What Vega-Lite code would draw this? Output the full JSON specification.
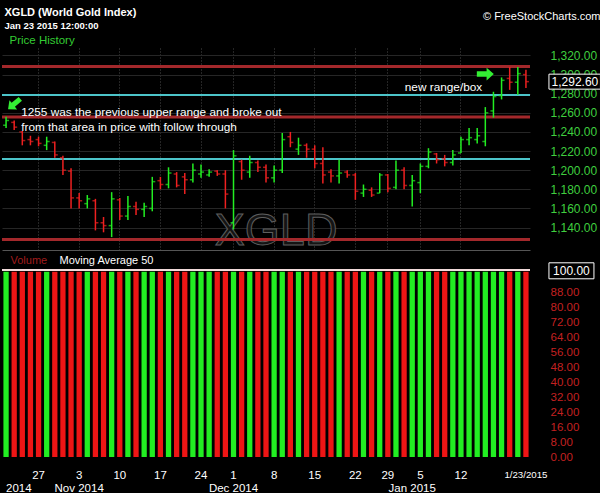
{
  "$schema": "https://vega.github.io/schema/vega-lite/v6.json",
  "background": "#000000",
  "padding": {"left": 0, "top": 6, "right": 2, "bottom": 0},
  "bounds": "flush",
  "spacing": 18,
  "config": {
    "view": {"stroke": null},
    "font": "Liberation Sans",
    "axis": {"labelFont": "Liberation Sans", "titleFont": "Liberation Sans"}
  },
  "datasets": {
    "bars": [
      {"date": "2014-10-21", "open": 1247, "high": 1256, "low": 1244, "close": 1252, "volume": 99},
      {"date": "2014-10-22", "open": 1250, "high": 1252, "low": 1242, "close": 1245, "volume": 99},
      {"date": "2014-10-23", "open": 1240, "high": 1241, "low": 1226, "close": 1231, "volume": 99},
      {"date": "2014-10-24", "open": 1232, "high": 1236, "low": 1226, "close": 1230, "volume": 99},
      {"date": "2014-10-27", "open": 1232, "high": 1235, "low": 1225, "close": 1228, "volume": 99},
      {"date": "2014-10-28", "open": 1226, "high": 1235, "low": 1221, "close": 1230, "volume": 99},
      {"date": "2014-10-29", "open": 1229, "high": 1230, "low": 1213, "close": 1216, "volume": 99},
      {"date": "2014-10-30", "open": 1213, "high": 1215, "low": 1195, "close": 1200, "volume": 99},
      {"date": "2014-10-31", "open": 1199, "high": 1202, "low": 1160, "close": 1171, "volume": 99},
      {"date": "2014-11-03", "open": 1171, "high": 1176, "low": 1160, "close": 1168, "volume": 99},
      {"date": "2014-11-04", "open": 1165, "high": 1174, "low": 1160, "close": 1170, "volume": 99},
      {"date": "2014-11-05", "open": 1168, "high": 1170, "low": 1137, "close": 1145, "volume": 99},
      {"date": "2014-11-06", "open": 1145, "high": 1151, "low": 1135, "close": 1142, "volume": 99},
      {"date": "2014-11-07", "open": 1142, "high": 1177, "low": 1130, "close": 1170, "volume": 99},
      {"date": "2014-11-10", "open": 1169, "high": 1171, "low": 1148, "close": 1152, "volume": 99},
      {"date": "2014-11-11", "open": 1152, "high": 1173, "low": 1148, "close": 1162, "volume": 99},
      {"date": "2014-11-12", "open": 1162, "high": 1167, "low": 1153, "close": 1159, "volume": 99},
      {"date": "2014-11-13", "open": 1159, "high": 1166, "low": 1151, "close": 1162, "volume": 99},
      {"date": "2014-11-14", "open": 1160, "high": 1193, "low": 1157, "close": 1188, "volume": 99},
      {"date": "2014-11-17", "open": 1189, "high": 1193, "low": 1180, "close": 1185, "volume": 99},
      {"date": "2014-11-18", "open": 1185, "high": 1203, "low": 1181, "close": 1197, "volume": 99},
      {"date": "2014-11-19", "open": 1196, "high": 1198, "low": 1182, "close": 1184, "volume": 99},
      {"date": "2014-11-20", "open": 1193, "high": 1197, "low": 1175, "close": 1190, "volume": 99},
      {"date": "2014-11-21", "open": 1190, "high": 1207, "low": 1187, "close": 1200, "volume": 99},
      {"date": "2014-11-24", "open": 1196, "high": 1206, "low": 1192, "close": 1198, "volume": 99},
      {"date": "2014-11-25", "open": 1195, "high": 1201, "low": 1193, "close": 1198, "volume": 99},
      {"date": "2014-11-26", "open": 1199, "high": 1200, "low": 1194, "close": 1196, "volume": 99},
      {"date": "2014-11-28", "open": 1196, "high": 1200, "low": 1160, "close": 1175, "volume": 99},
      {"date": "2014-12-01", "open": 1145, "high": 1221, "low": 1138, "close": 1215, "volume": 99},
      {"date": "2014-12-02", "open": 1209, "high": 1211, "low": 1190, "close": 1200, "volume": 99},
      {"date": "2014-12-03", "open": 1198, "high": 1215, "low": 1192, "close": 1208, "volume": 99},
      {"date": "2014-12-04", "open": 1208, "high": 1210, "low": 1198, "close": 1203, "volume": 99},
      {"date": "2014-12-05", "open": 1203, "high": 1206, "low": 1187, "close": 1192, "volume": 99},
      {"date": "2014-12-08", "open": 1192, "high": 1205, "low": 1187, "close": 1200, "volume": 99},
      {"date": "2014-12-09", "open": 1200, "high": 1239, "low": 1197, "close": 1232, "volume": 99},
      {"date": "2014-12-10", "open": 1235, "high": 1240, "low": 1224, "close": 1229, "volume": 99},
      {"date": "2014-12-11", "open": 1222, "high": 1234, "low": 1216, "close": 1226, "volume": 99},
      {"date": "2014-12-12", "open": 1226, "high": 1228, "low": 1213, "close": 1222, "volume": 99},
      {"date": "2014-12-15", "open": 1222, "high": 1226, "low": 1202, "close": 1207, "volume": 99},
      {"date": "2014-12-16", "open": 1207, "high": 1224, "low": 1186, "close": 1195, "volume": 99},
      {"date": "2014-12-17", "open": 1198, "high": 1201, "low": 1187, "close": 1194, "volume": 99},
      {"date": "2014-12-18", "open": 1194, "high": 1211, "low": 1186, "close": 1197, "volume": 99},
      {"date": "2014-12-19", "open": 1198, "high": 1200, "low": 1192, "close": 1195, "volume": 99},
      {"date": "2014-12-22", "open": 1195, "high": 1197, "low": 1169, "close": 1178, "volume": 99},
      {"date": "2014-12-23", "open": 1176, "high": 1185, "low": 1172, "close": 1180, "volume": 99},
      {"date": "2014-12-24", "open": 1179, "high": 1182, "low": 1172, "close": 1174, "volume": 99},
      {"date": "2014-12-26", "open": 1176, "high": 1197, "low": 1176, "close": 1195, "volume": 99},
      {"date": "2014-12-29", "open": 1195, "high": 1196, "low": 1177, "close": 1181, "volume": 99},
      {"date": "2014-12-30", "open": 1182, "high": 1210, "low": 1180, "close": 1200, "volume": 99},
      {"date": "2014-12-31", "open": 1200, "high": 1203, "low": 1180, "close": 1184, "volume": 99},
      {"date": "2015-01-02", "open": 1184, "high": 1195, "low": 1162, "close": 1189, "volume": 99},
      {"date": "2015-01-05", "open": 1187, "high": 1207, "low": 1176, "close": 1204, "volume": 99},
      {"date": "2015-01-06", "open": 1204, "high": 1223, "low": 1202, "close": 1219, "volume": 99},
      {"date": "2015-01-07", "open": 1217, "high": 1218, "low": 1207, "close": 1211, "volume": 99},
      {"date": "2015-01-08", "open": 1212, "high": 1216, "low": 1204, "close": 1208, "volume": 99},
      {"date": "2015-01-09", "open": 1208, "high": 1221, "low": 1205, "close": 1216, "volume": 99},
      {"date": "2015-01-12", "open": 1218, "high": 1235, "low": 1218, "close": 1232, "volume": 99},
      {"date": "2015-01-13", "open": 1232, "high": 1244, "low": 1226, "close": 1234, "volume": 99},
      {"date": "2015-01-14", "open": 1232, "high": 1244, "low": 1228, "close": 1236, "volume": 99},
      {"date": "2015-01-15", "open": 1230, "high": 1266, "low": 1225, "close": 1260, "volume": 99},
      {"date": "2015-01-16", "open": 1262, "high": 1282, "low": 1255, "close": 1277, "volume": 99},
      {"date": "2015-01-20", "open": 1278, "high": 1297, "low": 1274, "close": 1294, "volume": 99},
      {"date": "2015-01-21", "open": 1296, "high": 1308, "low": 1284, "close": 1292, "volume": 99},
      {"date": "2015-01-22", "open": 1292, "high": 1308, "low": 1279, "close": 1301, "volume": 99},
      {"date": "2015-01-23", "open": 1300, "high": 1305, "low": 1286, "close": 1292.6, "volume": 99}
    ],
    "levels": [
      {"level": 1308.5, "kind": "resistance"},
      {"level": 1278.7, "kind": "range"},
      {"level": 1255.6, "kind": "resistance"},
      {"level": 1211.7, "kind": "range"},
      {"level": 1127.4, "kind": "resistance"}
    ]
  },
  "vconcat": [
    {
      "width": 528,
      "height": 202,
      "data": {"name": "bars"},
      "resolve": {"axis": {"x": "independent", "y": "independent"}},
      "layer": [
        {
          "data": {"values": [{"date": "2014-12-08", "price": 1136.3, "label": "XGLD"}]},
          "mark": {"type": "text", "fontSize": 45, "font": "Liberation Sans", "fill": "#141414", "stroke": "#5e5e5e", "strokeWidth": 1, "dx": 2, "baseline": "middle", "align": "center"},
          "encoding": {
            "x": {"field": "date", "type": "ordinal", "scale": {"type": "band", "paddingInner": 0.35, "paddingOuter": 0.175},
              "axis": {"orient": "top", "title": "Jan 23 2015 12:00:00", "labels": false, "ticks": false, "tickSize": 0, "domain": false, "grid": false,
                "titleX": 2, "titleY": -23, "titleAlign": "left", "titleBaseline": "middle", "titleFontSize": 9.5, "titleFontWeight": "bold", "titleColor": "#ffffff"}},
            "y": {"field": "price", "type": "quantitative", "scale": {"domain": [1116.5, 1327.8], "nice": false, "zero": false},
              "axis": {"orient": "left", "title": "Price History", "labels": false, "ticks": false, "tickSize": 0, "domain": false, "grid": false,
                "titleX": 7, "titleY": -8, "titleAngle": 0, "titleAlign": "left", "titleBaseline": "middle", "titleColor": "#33cc33", "titleFontSize": 11.5, "titleFontWeight": "normal"}},
            "text": {"field": "label"}
          }
        },
        {
          "data": {"name": "levels"},
          "mark": {"type": "rule"},
          "encoding": {
            "y": {"field": "level", "type": "quantitative", "axis": null},
            "color": {"field": "kind", "type": "nominal", "scale": {"domain": ["resistance", "range"], "range": ["#a3282b", "#4cc4c9"]}, "legend": null},
            "strokeWidth": {"field": "kind", "type": "nominal", "scale": {"domain": ["resistance", "range"], "range": [3, 2]}, "legend": null}
          }
        },
        {
          "mark": {"type": "rule", "strokeWidth": 1.5},
          "encoding": {
            "x": {"field": "date", "type": "ordinal",
              "axis": {"orient": "bottom", "values": ["2014-10-27", "2014-11-03", "2014-11-10", "2014-11-17", "2014-11-24", "2014-12-01", "2014-12-08", "2014-12-15", "2014-12-22", "2014-12-29", "2015-01-05", "2015-01-12"],
                "labels": false, "ticks": false, "tickSize": 0, "domain": true, "domainColor": "#555555", "grid": true, "gridColor": "#4a4a4a", "gridDash": [1, 2],
                "title": "XGLD (World Gold Index)", "titleX": 2, "titleY": -238, "titleAlign": "left", "titleBaseline": "middle", "titleColor": "#ffffff", "titleFontSize": 11, "titleFontWeight": "bold"}},
            "y": {"field": "low", "type": "quantitative",
              "axis": {"orient": "right", "values": [1140, 1160, 1180, 1200, 1220, 1240, 1260, 1280, 1300, 1320], "format": ",.2f", "labelColor": "#3fcf3f", "labelFontSize": 12, "labelPadding": 20, "labelAlign": "left", "labelOverlap": false,
                "ticks": false, "tickSize": 0, "domain": false, "grid": true, "gridColor": "#262626",
                "title": "© FreeStockCharts.com", "titleX": 70, "titleY": -32, "titleAngle": 0, "titleAlign": "right", "titleBaseline": "middle", "titleColor": "#ffffff", "titleFontSize": 11, "titleFontWeight": "normal"}},
            "y2": {"field": "high"},
            "color": {"condition": {"test": "datum.close >= datum.open", "value": "#22ee22"}, "value": "#ee2020"}
          }
        },
        {
          "mark": {"type": "tick", "orient": "horizontal", "size": 3, "thickness": 1.5, "xOffset": -1.5},
          "encoding": {
            "x": {"field": "date", "type": "ordinal", "axis": null},
            "y": {"field": "open", "type": "quantitative", "axis": null},
            "color": {"condition": {"test": "datum.close >= datum.open", "value": "#22ee22"}, "value": "#ee2020"}
          }
        },
        {
          "mark": {"type": "tick", "orient": "horizontal", "size": 3, "thickness": 1.5, "xOffset": 1.5},
          "encoding": {
            "x": {"field": "date", "type": "ordinal", "axis": null},
            "y": {"field": "close", "type": "quantitative", "axis": null},
            "color": {"condition": {"test": "datum.close >= datum.open", "value": "#22ee22"}, "value": "#ee2020"}
          }
        },
        {
          "data": {"values": [
            {"date": "2014-10-22", "price": 1261, "note": "1255 was the previous upper range and broke out"},
            {"date": "2014-10-22", "price": 1245.3, "note": "from that area in price with follow through"}
          ]},
          "mark": {"type": "text", "align": "left", "dx": 7, "baseline": "middle", "color": "#ffffff", "fontSize": 11.8},
          "encoding": {
            "x": {"field": "date", "type": "ordinal", "axis": null},
            "y": {"field": "price", "type": "quantitative", "axis": null},
            "text": {"field": "note"}
          }
        },
        {
          "data": {"values": [{"date": "2015-01-14", "price": 1286.5, "note": "new range/box"}]},
          "mark": {"type": "text", "align": "right", "dx": 5, "baseline": "middle", "color": "#ffffff", "fontSize": 11.8},
          "encoding": {
            "x": {"field": "date", "type": "ordinal", "axis": null},
            "y": {"field": "price", "type": "quantitative", "axis": null},
            "text": {"field": "note"}
          }
        },
        {
          "data": {"values": [{"date": "2014-10-22", "price": 1269.2}]},
          "mark": {"type": "point", "shape": "M-1,-0.32L0.15,-0.32L0.15,-0.75L1,0L0.15,0.75L0.15,0.32L-1,0.32Z", "size": 256, "angle": 140, "filled": true, "color": "#33ee33", "opacity": 1},
          "encoding": {
            "x": {"field": "date", "type": "ordinal", "axis": null},
            "y": {"field": "price", "type": "quantitative", "axis": null}
          }
        },
        {
          "data": {"values": [{"date": "2015-01-15", "price": 1300.6}]},
          "mark": {"type": "point", "shape": "M-1,-0.32L0.15,-0.32L0.15,-0.75L1,0L0.15,0.75L0.15,0.32L-1,0.32Z", "size": 289, "filled": true, "color": "#33ee33", "opacity": 1},
          "encoding": {
            "x": {"field": "date", "type": "ordinal", "axis": null},
            "y": {"field": "price", "type": "quantitative", "axis": null}
          }
        },
        {
          "transform": [{"filter": "datum.date == '2015-01-23'"}],
          "mark": {"type": "point", "shape": "M2.3,-0.75H7.45V0.75H2.3Z", "size": 400, "filled": true, "fill": "#000000", "stroke": "#ffffff", "strokeWidth": 1, "opacity": 1, "fillOpacity": 1},
          "encoding": {
            "x": {"field": "date", "type": "ordinal", "axis": null},
            "y": {"field": "close", "type": "quantitative", "axis": null}
          }
        },
        {
          "transform": [{"filter": "datum.date == '2015-01-23'"}],
          "mark": {"type": "text", "dx": 49, "align": "center", "baseline": "middle", "color": "#ffffff", "fontSize": 12},
          "encoding": {
            "x": {"field": "date", "type": "ordinal", "axis": null},
            "y": {"field": "close", "type": "quantitative", "axis": null},
            "text": {"field": "close", "type": "quantitative", "format": ",.2f"}
          }
        }
      ]
    },
    {
      "width": 528,
      "height": 189,
      "data": {"name": "bars"},
      "resolve": {"axis": {"x": "independent", "y": "independent"}},
      "layer": [
        {
          "mark": {"type": "bar"},
          "encoding": {
            "x": {"field": "date", "type": "ordinal", "scale": {"type": "band", "paddingInner": 0.35, "paddingOuter": 0.175},
              "axis": {"orient": "bottom",
                "values": ["2014-10-21", "2014-10-27", "2014-11-03", "2014-11-10", "2014-11-17", "2014-11-24", "2014-12-01", "2014-12-08", "2014-12-15", "2014-12-22", "2014-12-29", "2015-01-02", "2015-01-05", "2015-01-12", "2015-01-23"],
                "labelExpr": "datum.value == '2014-10-21' ? ['', '2014'] : datum.value == '2014-11-03' ? ['3', 'Nov 2014'] : datum.value == '2014-12-01' ? ['1', 'Dec 2014'] : datum.value == '2015-01-02' ? ['', 'Jan 2015'] : datum.value == '2015-01-23' ? '1/23/2015' : '' + toNumber(slice(datum.value, 8))",
                "labelFlush": 6,
                "labelOverlap": false,
                "labelAngle": 0,
                "labelColor": "#ffffff",
                "labelFontSize": {"condition": {"test": "datum.value == '2015-01-23'", "value": 9.7}, "value": 11.5},
                "labelLineHeight": 13,
                "labelPadding": 12,
                "ticks": false, "tickSize": 0, "domain": false, "grid": false,
                "title": "Volume", "titleX": 8, "titleY": -197, "titleAlign": "left", "titleBaseline": "middle", "titleColor": "#a01c1c", "titleFontSize": 11, "titleFontWeight": "normal"}},
            "y": {"field": "volume", "type": "quantitative", "scale": {"domain": [0, 101], "nice": false, "zero": true},
              "axis": {"orient": "right", "values": [0, 8, 16, 24, 32, 40, 48, 56, 64, 72, 80, 88], "format": ".2f", "labelColor": "#c42020", "labelFontSize": 11.5, "labelPadding": 20, "labelAlign": "left", "labelBaseline": "middle", "labelOverlap": false,
                "ticks": false, "tickSize": 0, "domain": false, "grid": false,
                "title": "Moving Average 50", "titleX": -471, "titleY": -8, "titleAngle": 0, "titleAlign": "left", "titleBaseline": "middle", "titleColor": "#ffffff", "titleFontSize": 11, "titleFontWeight": "normal"}},
            "color": {"condition": {"test": "datum.close >= datum.open", "value": "#22ee22"}, "value": "#ee1515"}
          }
        },
        {
          "mark": {"type": "rule", "color": "#f2dcdc", "strokeWidth": 1},
          "encoding": {"y": {"datum": 99.8, "axis": null}}
        },
        {
          "transform": [{"filter": "datum.date == '2015-01-23'"}],
          "mark": {"type": "point", "shape": "M2.3,-0.8H6.8V0.8H2.3Z", "size": 400, "filled": true, "fill": "#000000", "stroke": "#ffffff", "strokeWidth": 1, "opacity": 1, "fillOpacity": 1},
          "encoding": {
            "x": {"field": "date", "type": "ordinal", "axis": null},
            "y": {"datum": 99.5, "axis": null}
          }
        },
        {
          "transform": [{"filter": "datum.date == '2015-01-23'"}],
          "mark": {"type": "text", "dx": 45.5, "align": "center", "baseline": "middle", "color": "#ffffff", "fontSize": 12, "text": "100.00"},
          "encoding": {
            "x": {"field": "date", "type": "ordinal", "axis": null},
            "y": {"datum": 99.5, "axis": null}
          }
        }
      ]
    }
  ]
}
